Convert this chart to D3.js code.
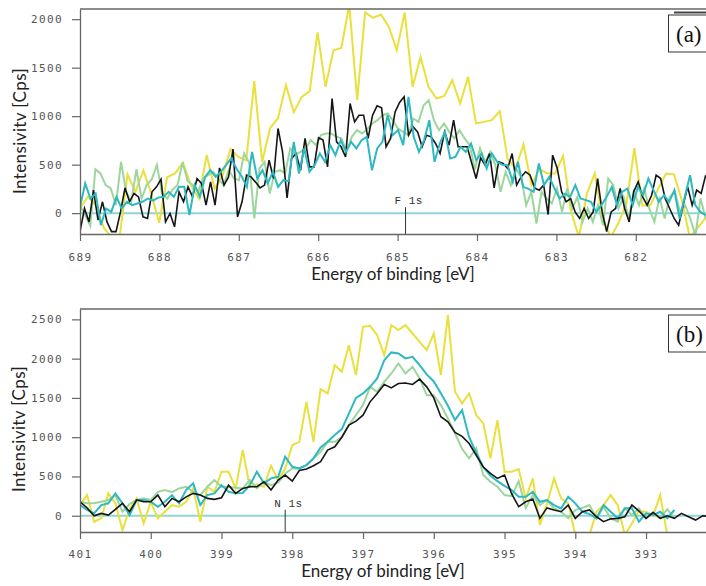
<!DOCTYPE html>
<html>
<head>
<meta charset="utf-8">
<script src="https://cdnjs.cloudflare.com/ajax/libs/d3/7.8.5/d3.min.js"></script>
<style>
body { margin: 0; background: #fff; }
svg { display: block; }
</style>
</head>
<body>
<script>
// ---- data ----
// panel (a): F 1s region, energies run from 689 eV down to ~681.1 eV
var rangeA = [689, 681.12];
var yellowA = [50, 170, 80, -150, -250, -250, 400, 220, 440, 200, -100, 370, 410, 520, 290, 150, 600, 250, 390, 660,
  580, 546, 1361, 529, 876, 979, 1320, 1041, 1199, 1258, 1863, 1302, 1680, 1704, 2150, 1165, 2069, 2013, 2048, 1920,
  1680, 2069, 1302, 1611, 1302, 1182, 1209, 1371, 1131, 1405, 925, 941, 959, 1052, 557, 461, 708, 289, 454, 409,
  409, 590, 20, -250, 200, 409, -50, -250, -100, 100, 670, 80, 80, 250, 409, 400, 130, -250, -150, -50];
var blackA = [-190, 48, -90, 237, -72, 117, -90, -190, -190, 13, 261, 117, 203, 168, -38, -55, 220, 271, 350, -90,
  -3, -141, 220, 117, 271, 168, 357, 306, 82, 323, 82, 467, 289, 374, 660, -38,
  117, 392, 374, 320, 261, 289, 546, 357, 873, 632, 158, 564, 615, 443, 770, 477, 477, 777, 753, 477,
  1182, 735, 684, 580, 1131, 941, 1010, 1010, 770, 1010, 1106, 1086, 684, 770, 1044, 1141,
  1199, 804, 890, 838, 684, 804, 787, 718, 615, 838, 701, 959, 684, 684, 684, 520, 357, 570, 495, 615,
  261, 529, 512, 461, 615, 289, 374, 426, 392, 261, 237, 289, -14, 598, 467,
  220, 117, 151, 13, -55, 48, -55, 13, 357, 13, -190, 13, 48, 254, 48, -90, 220, 323, 168, 82,
  185, 392, 357, 151, 48, -55, -124, 82, 271, 82, 237, 203, 392];
var greenA = [80, -20, -130, 453, 409, 289, 255, 82, 529, 220, 117, 453, 151, 289, 350, 495, 203, 150, 240, 289,
  523, 330, 289, 220, 357, 392, 426, 357, 289, 443, 357,
  340, 615, 520, -55, 461, 529, 203, 426, 443, 409, 667, 600, 632, 667, 753, 701, 804, 822, 822, 787,
  770, 632, 787, 856, 822, 866, 925, 959, 1010, 1028, 959, 873,
  838, 804, 976, 941, 1113, 1165, 959, 856, 925, 838, 770, 856, 770, 701, 450, 667, 529, 632, 495, 220,
  426, 289, 461, 374, 82, 220, -107, 220, 151, 100, 254,
  13, 254, 48, 168, -90, 48, -90, 82, -124, 357, 289, 48, 168, -55, 220, 82, 254, 48, -90, 168,
  -55, 168, 220, 13, 82, -55, -230, 151, -55];
var tealA = [65, 306, 151, 203, -124, 48, 13, 168, 48, 117, 82, 100, 117, 151, 130, 160, 168, 220, 168, 271,
  271, -20, 289, 168, 374, 443, 374, 426, 495, 564,
  461, 380, 271, 632, 357, 443, 306, 426, 271, 340, 330, 735, 409, 667, 426, 495, 615, 529, 701, 598,
  753, 632, 735, 667, 753, 787, 443, 667, 735, 1010, 804,
  856, 701, 1199, 787, 632, 753, 959, 529, 718, 838, 564, 580, 684, 632, 718, 546, 615, 461, 615, 529,
  500, 495, 323, 529, 271, 250, 220, 512, 289, 374, 254,
  151, 200, 168, 289, 151, 134, 117, 13, 82, 168, 271, 82, 220, 254, 82, 271, 185, 357, 237, 117,
  185, 117, 237, -55, 168, 392, 82, 13, -20];

// panel (b): N 1s region, 0.1 eV steps from 401 eV
var startB = 401, stepB = 0.1;
var yellowB = [136, 263, -76, -33, 285, 158, -182, 80, 221, -97, 178, -33, 51, 136, 115, 178, 348, -76, 369, 305,
  560, 560, 348, 836, 369, 400, 369, 636, 454, 600, 899, 941, 1450, 941, 1612, 1557, 1917, 1832, 2172, 1790,
  2405, 2418, 2299, 2045, 2426, 2363, 2426, 2320, 2214, 2108, 2320, 1790, 2553, 1578, 1430, 1557, 1281, 1175, 730, 1217,
  560, 560, 594, 221, 476, -118, 150, 476, 221, 158, -245, -245, -245, 51, 136, 263, 136, -245, -100, 60,
  51, 0, 263, -245];
var blackB = [178, 100, 0, 30, 9, 80, 158, 51, 200, 178, 178, 263, 115, 221, 178, 240, 285, 263, 221, 209,
  229, 390, 285, 348, 369, 369, 432, 327, 454, 518, 441, 575, 594, 636, 687, 836, 878, 1000, 1154, 1205,
  1281, 1450, 1557, 1671, 1628, 1684, 1690, 1671, 1739, 1641, 1500, 1260, 1196, 1061, 1010, 920, 770, 620, 539, 476,
  518, 280, 115, 178, 212, -33, 100, 73, 51, 136, -33, 51, 73, -13, -76, -40, -33, -13, 136, 60,
  -33, 43, -33, 0, -33, 30, -13, -55, 0, -10];
var greenB = [178, 158, 158, 178, 200, 263, 51, 150, 200, 221, 200, 305, 327, 300, 348, 369, 305, 263, 369, 454,
  370, 369, 356, 348, 454, 348, 432, 390, 420, 539, 603, 603, 645, 730, 814, 941, 941, 1000, 1154, 1281,
  1408, 1641, 1578, 1705, 1811, 1939, 1811, 1896, 1748, 1535, 1535, 1408, 1239, 1050, 850, 730, 860, 518, 432, 369,
  263, 250, 440, 100, 263, 136, 200, 94, 51, -33, 73, 100, 136, -33, 115, -33, -76, 94, 9, 94,
  -33, 30, -33, 85, -33];
var tealB = [136, 73, 30, 136, 158, 285, 158, 9, 200, 200, 180, 115, 178, 263, 158, 327, 412, 136, 263, 285,
  390, 305, 285, 290, 390, 560, 412, 476, 496, 751, 623, 603, 645, 730, 870, 941, 1027, 1103, 1300, 1500,
  1557, 1641, 1748, 1980, 2079, 2066, 2003, 2023, 1917, 1800, 1710, 1560, 1400, 1217, 1345, 1000, 800, 620, 510, 440,
  380, 327, 242, 242, 305, 178, 200, 136, 94, 242, 158, 51, 20, -33, 136, 51, -33, 94, 94, -76,
  30, 9, 51, -33, 73];

var ticksXA = [689, 688, 687, 686, 685, 684, 683, 682];
var ticksYA = [0, 500, 1000, 1500, 2000];
var ticksXB = [401, 400, 399, 398, 397, 396, 395, 394, 393];
var ticksYB = [0, 500, 1000, 1500, 2000, 2500];

var peakNames = ["F 1s", "N 1s"];
var peakEnergies = [684.9, 398.1];

var colors = { yellow: "#e9e03c", black: "#151515", green: "#9dd69c", teal: "#2db8c2", zero: "#8fd4da" };

// energies for a series spread evenly over [from, to]
function spread(values, from, to) {
  var step = (from - to) / (values.length - 1);
  return values.map(function(v, i) { return { e: from - i * step, v: v }; });
}
function stepped(values, from, step) {
  return values.map(function(v, i) { return { e: from - i * step, v: v }; });
}

var panels = [
  {
    key: "a", top: 9, bottom: 234, left: 80,
    xDomain: [689, 681], xRight: 715.2, yDomain: [-215, 2105],
    xTicks: ticksXA, yTicks: ticksYA, tickPad: 12.5,
    series: [
      { data: spread(yellowA, rangeA[0], rangeA[1]), color: colors.yellow, width: 2 },
      { data: spread(greenA, rangeA[0], rangeA[1]), color: colors.green, width: 2 },
      { data: spread(blackA, rangeA[0], rangeA[1]), color: colors.black, width: 1.6 },
      { data: spread(tealA, rangeA[0], rangeA[1]), color: colors.teal, width: 2 }
    ],
    peak: 0, label: "(a)",
    yTitle: [26, 131], xTitle: [393, 280]
  },
  {
    key: "b", top: 309, bottom: 532, left: 80,
    xDomain: [401, 392], xRight: 716.8, yDomain: [-207, 2632],
    xTicks: ticksXB, yTicks: ticksYB, tickPad: 11,
    series: [
      { data: stepped(yellowB, startB, stepB), color: colors.yellow, width: 2 },
      { data: stepped(greenB, startB, stepB), color: colors.green, width: 2 },
      { data: stepped(tealB, startB, stepB), color: colors.teal, width: 2 },
      { data: stepped(blackB, startB, stepB), color: colors.black, width: 1.6 }
    ],
    peak: 1, label: "(b)",
    yTitle: [25, 429], xTitle: [383, 577]
  }
];

var W = 706, H = 586;
var svg = d3.select("body").append("svg")
  .attr("width", W)
  .attr("height", H);

var tickFont = "'DejaVu Sans Mono', monospace";
var titleFont = "Lato, 'Open Sans', sans-serif";

panels.forEach(function(p) {
  var x = d3.scaleLinear().domain(p.xDomain).range([p.left, p.xRight]);
  var y = d3.scaleLinear().domain(p.yDomain).range([p.bottom, p.top]);

  var g = svg.append("g").attr("class", "panel-" + p.key);

  g.append("clipPath").attr("id", "clip-" + p.key)
    .append("rect")
    .attr("x", p.left).attr("y", p.top)
    .attr("width", W - p.left).attr("height", p.bottom - p.top);

  // zero line
  g.append("line")
    .attr("x1", p.left).attr("x2", W)
    .attr("y1", y(0)).attr("y2", y(0))
    .attr("stroke", colors.zero)
    .attr("stroke-width", 2);

  var line = d3.line()
    .x(function(d) { return x(d.e); })
    .y(function(d) { return y(d.v); });

  var plot = g.append("g").attr("clip-path", "url(#clip-" + p.key + ")");
  p.series.forEach(function(s) {
    plot.append("path")
      .datum(s.data)
      .attr("d", line)
      .attr("fill", "none")
      .attr("stroke", s.color)
      .attr("stroke-width", s.width)
      .attr("stroke-linejoin", "miter");
  });

  // peak marker
  var px = x(peakEnergies[p.peak]);
  g.append("line")
    .attr("x1", px).attr("x2", px)
    .attr("y1", y(0) - 6).attr("y2", p.bottom)
    .attr("stroke", "#333").attr("stroke-width", 1);
  g.append("text")
    .attr("x", px - 11).attr("y", y(0) - 9)
    .attr("font-family", "'Liberation Mono', monospace")
    .attr("font-size", 11)
    .attr("letter-spacing", 0.5)
    .attr("fill", "#333")
    .text(peakNames[p.peak]);

  // frame top
  g.append("line")
    .attr("x1", p.left).attr("x2", W)
    .attr("y1", p.top).attr("y2", p.top)
    .attr("stroke", "#666").attr("stroke-width", 1.3);

  // axes
  var xAxis = g.append("g")
    .attr("transform", "translate(0," + p.bottom + ")")
    .call(d3.axisBottom(x).tickValues(p.xTicks).tickFormat(d3.format("d"))
      .tickSize(7).tickSizeOuter(0).tickPadding(p.tickPad));
  var yAxis = g.append("g")
    .attr("transform", "translate(" + p.left + ",0)")
    .call(d3.axisLeft(y).tickValues(p.yTicks).tickFormat(d3.format("d"))
      .tickSize(8).tickSizeOuter(0).tickPadding(9));

  [xAxis, yAxis].forEach(function(ax) {
    ax.select(".domain").attr("stroke", "#666").attr("stroke-width", 1.3);
    ax.selectAll(".tick line").attr("stroke", "#666").attr("stroke-width", 1.2);
    ax.selectAll(".tick text")
      .attr("fill", "#555")
      .attr("font-family", tickFont)
      .attr("font-size", 11)
      .attr("letter-spacing", 1.4);
  });

  // titles
  g.append("text")
    .attr("transform", "translate(" + p.yTitle[0] + "," + p.yTitle[1] + ") rotate(-90)")
    .attr("text-anchor", "middle")
    .attr("font-family", titleFont)
    .attr("font-size", 17)
    .attr("letter-spacing", 0.4)
    .attr("fill", "#222")
    .text("Intensivitv [Cps]");
  g.append("text")
    .attr("x", p.xTitle[0]).attr("y", p.xTitle[1])
    .attr("text-anchor", "middle")
    .attr("font-family", titleFont)
    .attr("font-size", 17)
    .attr("fill", "#222")
    .text("Energy of binding [eV]");

  // panel label box
  if (p.key === "a") {
    g.append("line")
      .attr("x1", 674).attr("x2", W)
      .attr("y1", p.top + 3.5).attr("y2", p.top + 3.5)
      .attr("stroke", "#444").attr("stroke-width", 2);
  }
  g.append("rect")
    .attr("x", 668.5).attr("y", p.top + 6)
    .attr("width", 60).attr("height", 37)
    .attr("fill", "#fff")
    .attr("stroke", "#333").attr("stroke-width", 1);
  g.append("text")
    .attr("x", 676).attr("y", p.top + 33)
    .attr("font-family", "'Liberation Serif', serif")
    .attr("font-size", 23)
    .attr("fill", "#111")
    .text(p.label);
});
</script>
</body>
</html>
